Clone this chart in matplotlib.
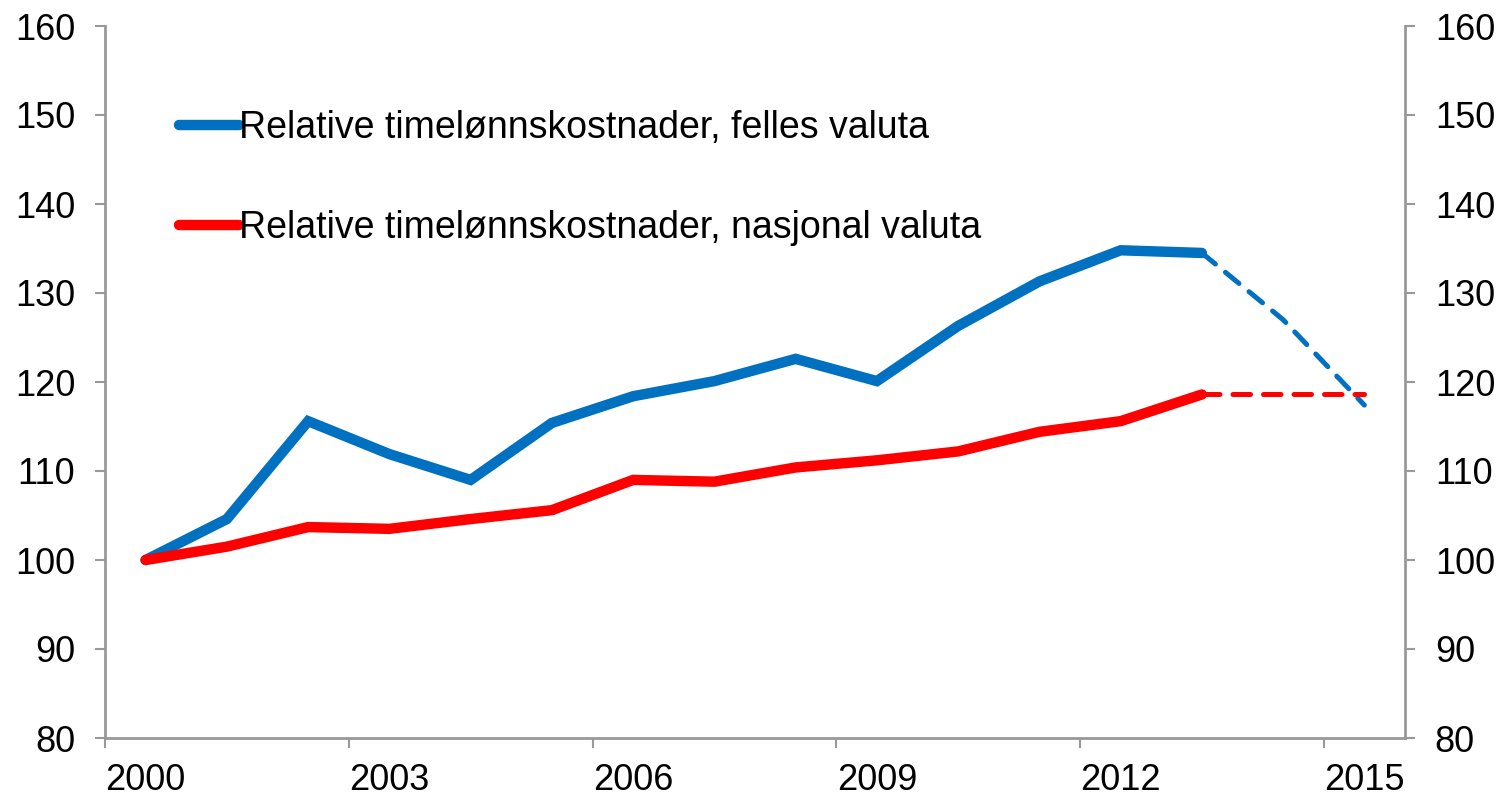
import matplotlib
matplotlib.use("Agg")
import matplotlib.pyplot as plt
import numpy as np

plt.rcParams['font.family'] = ['Liberation Sans', 'DejaVu Sans']

years = list(range(2000, 2016))
felles = [100, 104.6, 115.6, 111.9, 109.0, 115.4, 118.4, 120.1, 122.6, 120.1,
          126.3, 131.3, 134.8, 134.5]
felles_proj = [134.5, 127.0, 117.4]
nasjonal = [100, 101.5, 103.7, 103.5, 104.6, 105.6, 109.0, 108.8, 110.4, 111.2,
            112.2, 114.4, 115.6, 118.6]
nasjonal_proj = [118.6, 118.6, 118.6]
label_felles = "Relative timelønnskostnader, felles valuta"
label_nasjonal = "Relative timelønnskostnader, nasjonal valuta"
yticks = list(range(80, 161, 10))
xlabel_years = [2000, 2003, 2006, 2009, 2012, 2015]

blue = '#0070C0'
red = '#FF0000'
gray = '#999999'

fig = plt.figure(figsize=(15.04, 7.98), dpi=100)
ax = fig.add_axes([105/1504, 1-738/798, 1300/1504, 712/798])

hist_years = years[:len(felles)]
proj_years = years[len(felles)-1:]
ax.plot(hist_years, felles, color=blue, lw=7.5, solid_capstyle='round', solid_joinstyle='miter', label=label_felles, zorder=3)
ax.plot(hist_years, nasjonal, color=red, lw=7.5, solid_capstyle='round', solid_joinstyle='miter', label=label_nasjonal, zorder=3)
ax.plot(proj_years, felles_proj, color=blue, lw=3.6, dashes=(3.5, 2.6), dash_capstyle='round', zorder=2)
ax.plot(proj_years, nasjonal_proj, color=red, lw=3.6, dashes=(3.5, 2.6), dash_capstyle='round', zorder=2)

ax.set_xlim(1999.5, 2015.5)
ax.set_ylim(80, 160)
ax.set_yticks(yticks)
ax.tick_params(axis='y', labelsize=26, length=7.5, width=1.5, color=gray, pad=14,
               left=True, right=True, labelleft=True, labelright=True)
ax.set_xticks(np.arange(1999.5, 2016, 3))
ax.set_xticklabels([])
ax.tick_params(axis='x', which='major', length=7.5, width=1.5, color=gray)
ax.set_xticks(xlabel_years, minor=True)
ax.set_xticklabels([str(y) for y in xlabel_years], minor=True)
ax.tick_params(axis='x', which='minor', length=0, labelsize=26, pad=18)

for s in ['left', 'right', 'bottom']:
    ax.spines[s].set_color(gray)
    ax.spines[s].set_linewidth(2)
ax.spines['top'].set_visible(False)

leg = ax.legend(loc='upper left', bbox_to_anchor=(0.045, 0.903), frameon=False,
                fontsize=27, handlelength=1.6, handletextpad=0.02,
                labelspacing=1.7, borderaxespad=0)

fig.savefig('out.png', dpi=100)
